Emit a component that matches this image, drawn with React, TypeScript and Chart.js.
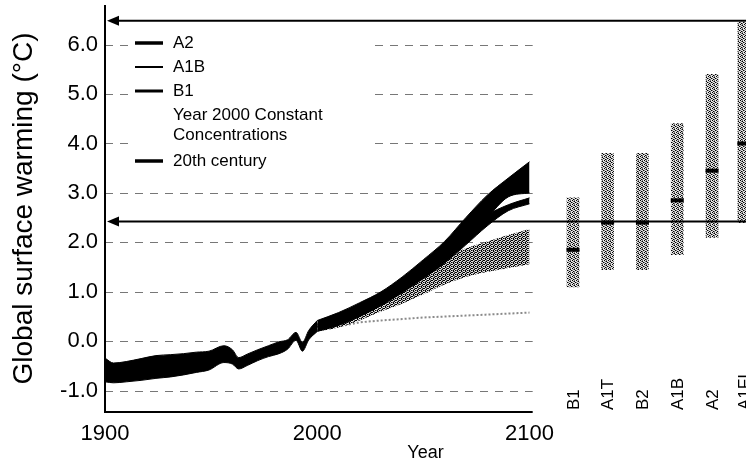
import React, { useEffect, useRef } from 'react';
import { Chart, registerables } from 'chart.js';

Chart.register(...registerables);

const FONT = '"Liberation Sans", Arial, Helvetica, sans-serif';

// Axis ticks
const xTicks = [1900, 2000, 2100];
const yTicks = [-1, 0, 1, 2, 3, 4, 5, 6];

// 20th century band
const histYears = [1900, 1904, 1910, 1917, 1924, 1931, 1937, 1943, 1949, 1956, 1960, 1963, 1967, 1972, 1977, 1982, 1986, 1990, 1993, 1996, 2000];
const histUpper = [-0.34, -0.44, -0.41, -0.35, -0.29, -0.27, -0.25, -0.22, -0.2, -0.09, -0.17, -0.33, -0.26, -0.17, -0.09, -0.01, 0.03, 0.18, -0.02, 0.22, 0.42];
const histLower = [-0.82, -0.84, -0.82, -0.79, -0.75, -0.72, -0.68, -0.63, -0.58, -0.43, -0.46, -0.56, -0.49, -0.39, -0.31, -0.25, -0.16, 0.02, -0.2, 0.03, 0.2];

// Scenario projections
const futYears = [2000, 2010, 2020, 2030, 2040, 2050, 2060, 2070, 2080, 2090, 2100];
const a2Upper = [0.42, 0.58, 0.78, 1.0, 1.3, 1.65, 2.02, 2.5, 2.95, 3.3, 3.63];
const a2Lower = [0.3, 0.42, 0.6, 0.8, 1.1, 1.4, 1.75, 2.1, 2.5, 2.92, 3.0];
const a1bUpper = [0.35, 0.5, 0.7, 0.9, 1.2, 1.55, 1.85, 2.2, 2.55, 2.76, 2.9];
const a1bLower = [0.2, 0.32, 0.5, 0.72, 0.98, 1.27, 1.58, 1.95, 2.33, 2.64, 2.78];
const b1Upper = [0.3, 0.42, 0.6, 0.82, 1.1, 1.4, 1.68, 1.88, 2.02, 2.15, 2.27];
const b1Lower = [0.2, 0.28, 0.42, 0.6, 0.76, 0.95, 1.15, 1.3, 1.4, 1.48, 1.56];
const constConc = [0.25, 0.3, 0.38, 0.42, 0.45, 0.48, 0.5, 0.52, 0.54, 0.56, 0.58];

// Likely ranges at 2090-2099
const scenarios = ['B1', 'A1T', 'B2', 'A1B', 'A2', 'A1FI'];
const scenarioX = [2120.5, 2136.8, 2153.2, 2169.6, 2186, 2201];
const scenarioLow = [1.1, 1.45, 1.45, 1.75, 2.1, 2.4];
const scenarioHigh = [2.9, 3.8, 3.8, 4.4, 5.4, 6.45];
const scenarioBest = [1.85, 2.4, 2.4, 2.85, 3.45, 4.0];

// Horizontal arrow lines
const arrowLevels = [6.48, 2.42];

// Legend
const legendLabels = [['A2'], ['A1B'], ['B1'], ['Year 2000 Constant', 'Concentrations'], ['20th century']];
const legendLineWidths = [3.5, 2, 3, 0, 3.5];

const X_AXIS_END = 2101.5;

function makePattern(tile: string[]): CanvasPattern | string {
  const c = document.createElement('canvas');
  c.width = tile[0].length;
  c.height = tile.length;
  const g = c.getContext('2d');
  if (!g) return '#999';
  const col: Record<string, string> = { K: '#000000', g: '#777777', '.': '#e2e2e2' };
  tile.forEach((row, y) => {
    row.split('').forEach((ch, x) => {
      g.fillStyle = col[ch];
      g.fillRect(x, y, 1, 1);
    });
  });
  const p = g.createPattern(c, 'repeat');
  return p || '#999';
}

const pts = (xs: number[], ys: number[]) => xs.map((x, i) => ({ x, y: ys[i] }));

export default function App() {
  const ref = useRef<HTMLCanvasElement | null>(null);

  useEffect(() => {
    if (!ref.current) return;
    const barPattern = makePattern(['K.g.', '.gK.', 'g..K', '.Kg.']);
    const bandPattern = makePattern(['K.gK', '.gK.', 'gK.K', '.Kg.']);

    const band = (label: string, xs: number[], up: number[], lo: number[], color: any, order: number, bw: number) => [
      {
        type: 'line',
        label: label + ' upper',
        data: pts(xs, up),
        borderColor: color,
        borderWidth: bw,
        backgroundColor: color,
        fill: '+1',
        pointRadius: 0,
        cubicInterpolationMode: 'monotone',
        order,
      },
      {
        type: 'line',
        label: label + ' lower',
        data: pts(xs, lo),
        borderColor: color,
        borderWidth: bw,
        backgroundColor: color,
        fill: false,
        pointRadius: 0,
        cubicInterpolationMode: 'monotone',
        order,
      },
    ];

    const datasets: any[] = [
      {
        type: 'line',
        label: 'Year 2000 Constant Concentrations',
        data: pts(futYears, constConc),
        borderColor: '#8a8a8a',
        borderWidth: 2,
        borderDash: [2, 2],
        pointRadius: 0,
        fill: false,
        cubicInterpolationMode: 'monotone',
        order: 10,
      },
      ...band('B1', futYears, b1Upper, b1Lower, bandPattern, 9, 0),
      ...band('A1B', futYears, a1bUpper, a1bLower, '#000', 7, 1),
      ...band('A2', futYears, a2Upper, a2Lower, '#000', 6, 1),
      ...band('20th century', histYears, histUpper, histLower, '#000', 5, 1),
      {
        type: 'bar',
        label: 'likely range',
        data: scenarioX.map((x, i) => ({ x, y: [scenarioLow[i], scenarioHigh[i]] })),
        backgroundColor: barPattern,
        borderWidth: 0,
        barThickness: 12,
        order: 2,
      },
      {
        type: 'line',
        label: 'best estimate',
        data: pts(scenarioX, scenarioBest),
        showLine: false,
        pointStyle: 'line',
        pointRadius: 6.5,
        pointBorderWidth: 4,
        pointBorderColor: '#000',
        borderColor: '#000',
        order: 1,
      },
    ];

    const backPlugin = {
      id: 'backPlugin',
      beforeDatasetsDraw(chart: any) {
        const { ctx, chartArea, scales } = chart;
        const xs = scales.x;
        const ys = scales.y;
        const xEnd = xs.getPixelForValue(X_AXIS_END);
        ctx.save();
        ctx.strokeStyle = '#777';
        ctx.lineWidth = 1;
        ctx.setLineDash([8, 7]);
        yTicks.forEach((v) => {
          const y = Math.round(ys.getPixelForValue(v)) + 0.5;
          ctx.beginPath();
          ctx.moveTo(chartArea.left, y);
          ctx.lineTo(xEnd, y);
          ctx.stroke();
        });
        ctx.setLineDash([]);
        // legend background
        ctx.fillStyle = '#fff';
        ctx.fillRect(chartArea.left + 23, 30, 240, 142);
        ctx.restore();
      },
    };

    const frontPlugin = {
      id: 'frontPlugin',
      afterDatasetsDraw(chart: any) {
        const { ctx, chartArea, scales, width } = chart;
        const xs = scales.x;
        const ys = scales.y;
        const left = chartArea.left;
        const xEnd = xs.getPixelForValue(X_AXIS_END);
        ctx.save();
        ctx.strokeStyle = '#000';
        ctx.fillStyle = '#000';
        ctx.lineWidth = 2;
        // axes
        ctx.beginPath();
        ctx.moveTo(left, chartArea.top);
        ctx.lineTo(left, chartArea.bottom);
        ctx.lineTo(xEnd, chartArea.bottom);
        ctx.stroke();
        // arrows
        arrowLevels.forEach((lv) => {
          const y = ys.getPixelForValue(lv);
          ctx.beginPath();
          ctx.moveTo(left + 10, y);
          ctx.lineTo(width, y);
          ctx.stroke();
          ctx.beginPath();
          ctx.moveTo(left + 2, y);
          ctx.lineTo(left + 14, y - 5);
          ctx.lineTo(left + 14, y + 5);
          ctx.closePath();
          ctx.fill();
        });
        // scenario labels
        ctx.font = '17px ' + FONT;
        ctx.textAlign = 'left';
        ctx.textBaseline = 'middle';
        scenarios.forEach((s, i) => {
          const x = xs.getPixelForValue(scenarioX[i]);
          ctx.save();
          ctx.translate(x + 1, chartArea.bottom - 2);
          ctx.rotate(-Math.PI / 2);
          ctx.fillText(s, 0, 0);
          ctx.restore();
        });
        // legend
        ctx.font = '17px ' + FONT;
        let y = 43;
        legendLabels.forEach((lines, i) => {
          if (legendLineWidths[i] > 0) {
            ctx.lineWidth = legendLineWidths[i];
            ctx.beginPath();
            ctx.moveTo(left + 30, y);
            ctx.lineTo(left + 58, y);
            ctx.stroke();
          }
          lines.forEach((t, k) => {
            ctx.fillText(t, left + 68, y + k * 20);
          });
          y += 24 + (lines.length - 1) * 22;
        });
        ctx.restore();
      },
    };

    const chart = new Chart(ref.current, {
      type: 'line',
      data: { datasets },
      options: {
        responsive: false,
        animation: false,
        devicePixelRatio: 1,
        events: [],
        layout: { autoPadding: false, padding: { top: 5, left: 0, right: 0, bottom: 0 } },
        plugins: { legend: { display: false }, tooltip: { enabled: false } },
        scales: {
          x: {
            type: 'linear',
            min: 1900,
            max: 2202,
            offset: false,
            grid: { display: false, drawTicks: false, offset: false },
            border: { display: false },
            afterBuildTicks: (s: any) => {
              s.ticks = xTicks.map((v) => ({ value: v }));
            },
            afterFit: (s: any) => {
              s.height = 52;
              s.paddingLeft = 0;
              s.paddingRight = 0;
            },
            ticks: {
              padding: 9,
              maxRotation: 0,
              autoSkip: false,
              color: '#000',
              font: { size: 22, family: FONT },
              callback: (v: any) => String(v),
            },
            title: {
              display: true,
              text: 'Year',
              color: '#000',
              font: { size: 18, family: FONT },
              padding: { top: 0, bottom: 0 },
            },
          },
          y: {
            type: 'linear',
            min: -1.43,
            max: 6.8,
            grid: { display: false, drawTicks: false },
            border: { display: false },
            afterBuildTicks: (s: any) => {
              s.ticks = yTicks.map((v) => ({ value: v }));
            },
            afterFit: (s: any) => {
              s.width = 105;
              s.paddingTop = 0;
              s.paddingBottom = 0;
            },
            ticks: {
              padding: 7,
              color: '#000',
              font: { size: 22, family: FONT },
              callback: (v: any) => Number(v).toFixed(1),
            },
            title: {
              display: true,
              text: 'Global surface warming (°C)',
              color: '#000',
              font: { size: 28, family: FONT },
              padding: { top: 7, bottom: 0 },
            },
          },
        },
      } as any,
      plugins: [backPlugin, frontPlugin],
    } as any);

    return () => chart.destroy();
  }, []);

  return (
    <div style={{ position: 'fixed', left: 0, top: 0, width: 746, height: 464, background: '#fff' }}>
      <canvas ref={ref} width={746} height={464} style={{ display: 'block', width: 746, height: 464 }} />
    </div>
  );
}
